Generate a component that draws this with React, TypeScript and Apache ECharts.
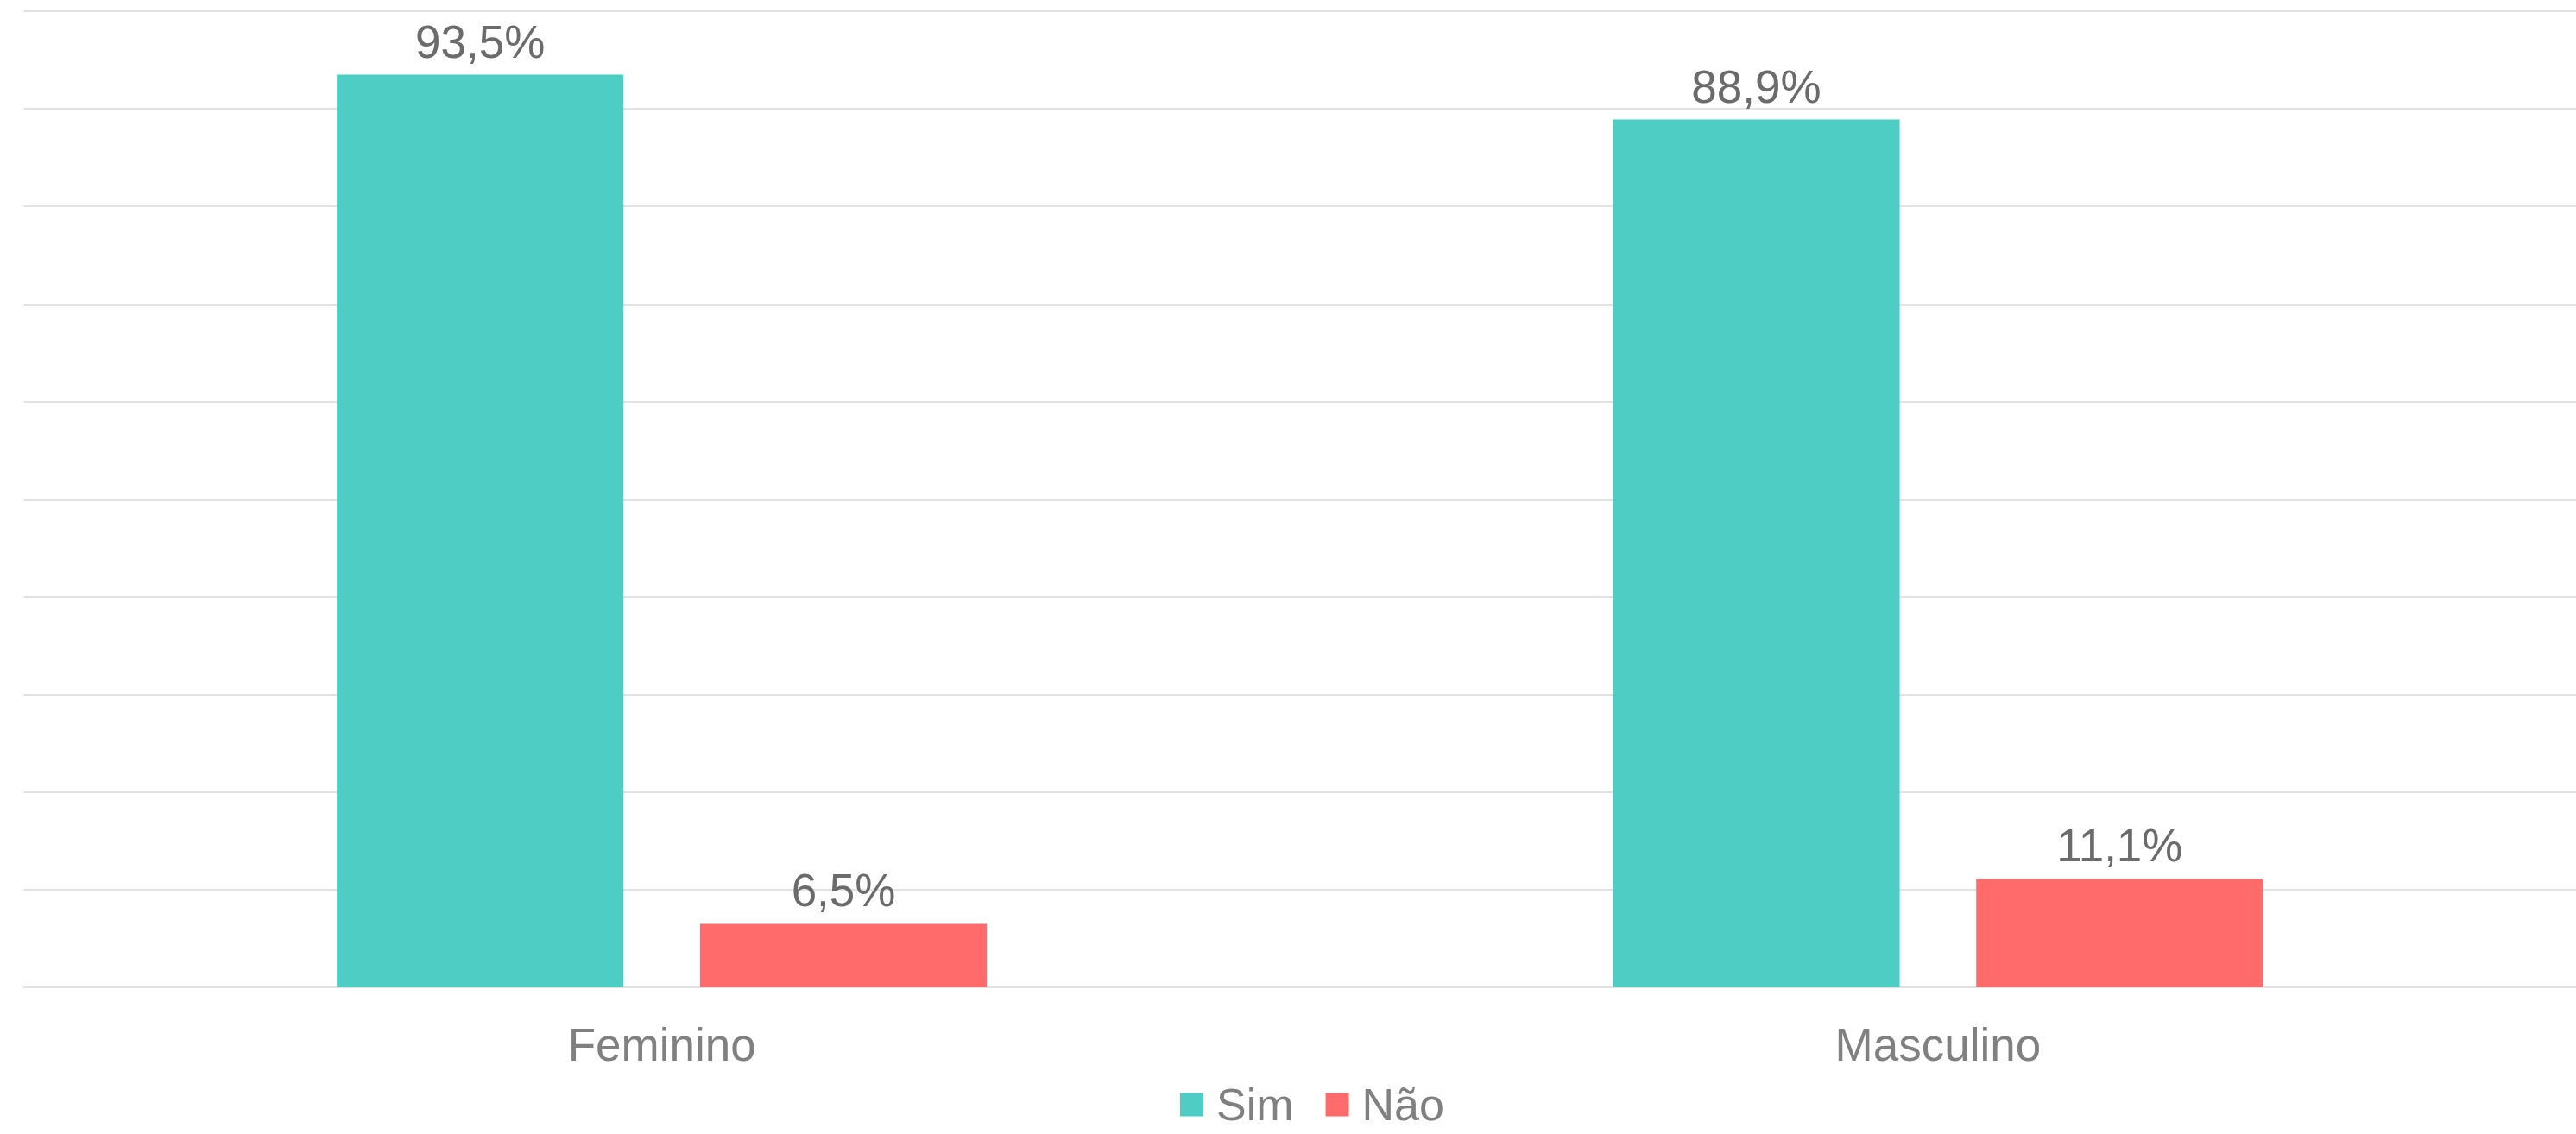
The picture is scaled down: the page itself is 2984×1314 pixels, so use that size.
import React, { useEffect, useRef } from "react";
import * as echarts from "echarts";

const categories = ["Feminino", "Masculino"];
const simValues = [93.5, 88.9];
const naoValues = [6.5, 11.1];
const seriesNames = ["Sim", "Não"];

const FONT = "'Liberation Sans', Arial, sans-serif";

export default function App() {
  const ref = useRef<HTMLDivElement>(null);
  useEffect(() => {
    document.body.style.margin = "0";
    const chart = echarts.init(ref.current!, null, { renderer: "svg" });
    const fmt = (p: any) => p.value.toFixed(1).replace(".", ",") + "%";
    const label = {
      show: true,
      position: "top",
      distance: 12,
      formatter: fmt,
      color: "#6b6b6b",
      fontSize: 53,
      fontFamily: FONT,
    };
    chart.setOption({
      animation: false,
      backgroundColor: "#ffffff",
      grid: { left: 27.5, right: -7.5, top: 13, bottom: 170, containLabel: false },
      legend: {
        data: seriesNames,
        top: 1254,
        left: 1367,
        padding: 0,
        icon: "rect",
        itemWidth: 27,
        itemHeight: 27,
        itemGap: 37,
        textStyle: {
          color: "#808080",
          fontSize: 52,
          fontFamily: FONT,
          lineHeight: 52,
          padding: [0, 0, 0, 10],
        },
      },
      xAxis: {
        type: "category",
        data: categories,
        axisLine: { show: true, lineStyle: { color: "#e2e2e2", width: 2 } },
        axisTick: { show: false },
        axisLabel: { color: "#808080", fontSize: 53, fontFamily: FONT, margin: 40 },
      },
      yAxis: {
        type: "value",
        min: 0,
        max: 100,
        interval: 10,
        axisLabel: { show: false },
        axisLine: { show: false },
        axisTick: { show: false },
        splitLine: { show: true, lineStyle: { color: "#e2e2e2", width: 2 } },
      },
      series: [
        {
          name: seriesNames[0],
          type: "bar",
          data: simValues,
          barWidth: "22.47%",
          barGap: "26.7%",
          itemStyle: { color: "#4ECDC4" },
          label,
        },
        {
          name: seriesNames[1],
          type: "bar",
          data: naoValues,
          barWidth: "22.47%",
          barGap: "26.7%",
          itemStyle: { color: "#FF6B6B" },
          label,
        },
      ],
    });
    return () => chart.dispose();
  }, []);
  return <div ref={ref} style={{ width: 2984, height: 1314 }} />;
}
